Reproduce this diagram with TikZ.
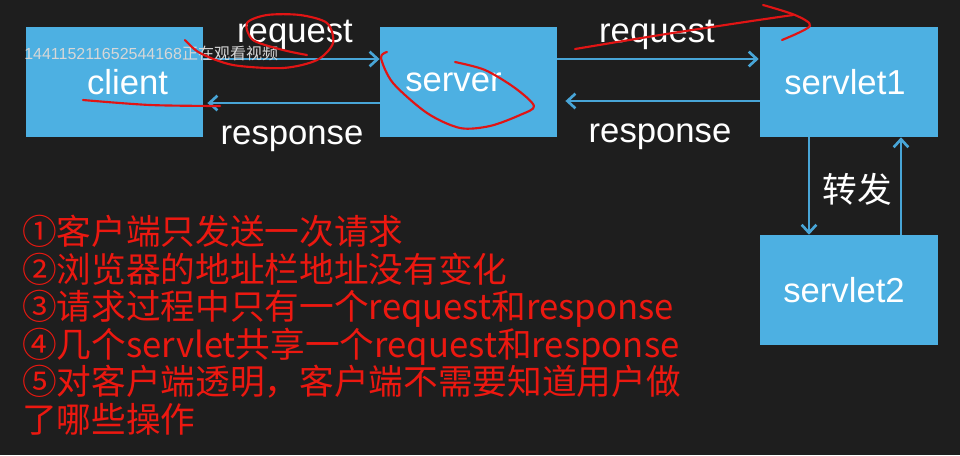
\documentclass[tikz,border=0pt]{standalone}
\usepackage{fontspec}
\setmainfont{Liberation Sans}
\newfontfamily\cjk{Noto Sans CJK SC}
\usetikzlibrary{arrows.meta,positioning}
\definecolor{board}{RGB}{30,30,30}
\definecolor{boxblue}{RGB}{77,176,226}
\definecolor{lineblue}{RGB}{72,165,215}
\definecolor{inkred}{RGB}{236,24,16}
\definecolor{marker}{RGB}{225,20,20}
\definecolor{wmgray}{RGB}{215,215,215}

\begin{document}
\begin{tikzpicture}[
  x=0.75pt, y=-0.75pt,
  every node/.style={font=\fontsize{26}{28}\selectfont},
  box/.style={fill=boxblue, text=white, minimum width=133pt, minimum height=82.5pt, inner sep=0pt},
  flow/.style={draw=lineblue, line width=2pt, -{Straight Barb[length=6pt,width=11pt]}},
  lbl/.style={text=white},
  scribble/.style={draw=marker, line width=1.6pt, line cap=round, line join=round}
]
\fill[board] (0,0) rectangle (960,455);

% boxes
\node[box] (client) at (114.5,82) {\hspace*{19.5pt}client};
\node[box] (server) at (468.5,82) {server\hspace*{22.5pt}};
\node[box] (servlet1) at (849,82) {servlet1\hspace*{6pt}};
\node[box] (servlet2) at (849,290) {servlet2\hspace*{7.5pt}};

% request / response
\draw[flow] ([yshift=17.25pt]client.east) -- ([yshift=17.25pt]server.west);
\draw[flow, shorten >=3pt] ([yshift=-15.75pt]server.west) -- ([yshift=-15.75pt]client.east);
\draw[flow, shorten >=1pt] ([yshift=17.25pt]server.east) -- ([yshift=17.25pt]servlet1.west);
\draw[flow, shorten >=6pt] ([yshift=-14.25pt]servlet1.west) -- ([yshift=-14.25pt]server.east);
\node[lbl] (req1) at (295,35) {request};
\node[lbl] (resp1) at (292,139) {response};
\node[lbl] (req2) at (657,35) {request};
\node[lbl] (resp2) at (660,137) {response};

% forward
\draw[flow] ([xshift=-30pt]servlet1.south) -- ([xshift=-30pt]servlet2.north);
\draw[flow] ([xshift=39pt]servlet2.north) -- ([xshift=39pt]servlet1.south);
\node[lbl, font=\cjk\fontsize{26}{28}\selectfont] (fwd) at (857,189) {转发};

% notes
\node[text=inkred, font=\cjk\fontsize{26}{28.1}\selectfont, align=left, anchor=north west, inner sep=0pt] (notes) at (22,215)
  {①客户端只发送一次请求\\
   ②浏览器的地址栏地址没有变化\\
   ③请求过程中只有一个request和response\\
   ④几个servlet共享一个request和response\\
   ⑤对客户端透明，客户端不需要知道用户做\\
   了哪些操作};

% watermark
\node[text=wmgray, font=\fontsize{12}{12}\selectfont, anchor=west, inner sep=0pt] (wm) at (24,53)
  {144115211652544168{\cjk 正在观看视频}};

% hand marks
\draw[scribble] plot[smooth] coordinates {(185,40) (200,53) (233,65) (283,68) (317,60) (333,43) (327,23) (300,15) (267,15) (247,23) (253,40) (283,50) (307,55)};
\draw[scribble] plot[smooth] coordinates {(83,100) (150,105) (220,106)};
\draw[scribble] plot[smooth] coordinates {(387,52) (381,58) (393,83) (427,113) (460,128) (490,126) (520,115) (534,106) (515,88) (485,70) (455,62)};
\draw[scribble] plot[smooth] coordinates {(575,49) (660,35) (745,22) (793,15)};
\draw[scribble] plot[smooth] coordinates {(763,5) (795,15) (810,26) (782,40)};
\end{tikzpicture}
\end{document}
